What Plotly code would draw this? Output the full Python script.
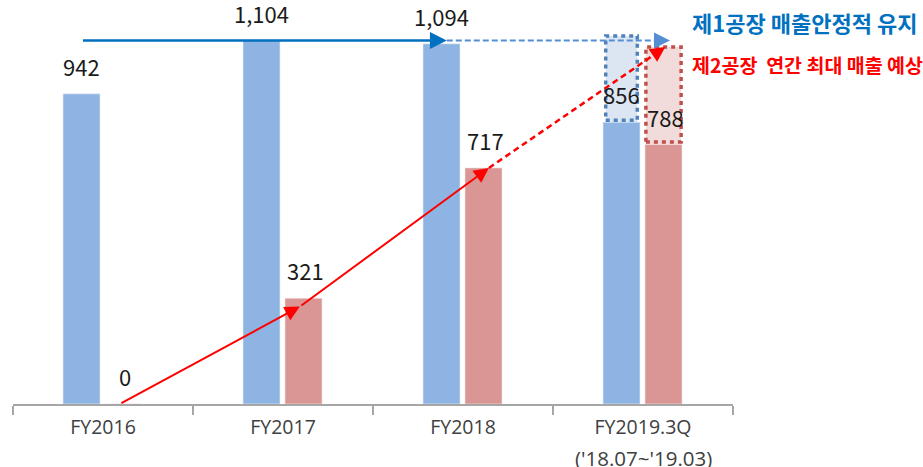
import plotly.graph_objects as go

# ---- data ----
categories = ["FY2016", "FY2017", "FY2018", "FY2019.3Q"]
category_sub = ["", "", "", "('18.07~'19.03)"]
plant1_sales = [942, 1104, 1094, 856]   # 제1공장
plant2_sales = [0, 321, 717, 788]       # 제2공장
plant1_label = ["942", "1,104", "1,094", "856"]
plant2_label = ["0", "321", "717", "788"]
plant1_expected = 1118   # dotted expectation box top (FY2019)
plant2_expected = 1084
title1 = "제1공장 매출안정적 유지"
title2 = "제2공장  연간 최대 매출 예상"

BLUE = "#8EB4E3"
RED = "#D99694"
FONT = "Noto Sans CJK KR"
TICKFONT = "Open Sans"

idx = list(range(len(categories)))
bw = 0.2056
off_b = -0.2222
off_r = 0.0111
cb = [i + off_b + bw / 2 for i in idx]   # blue bar centers
cr = [i + off_r + bw / 2 for i in idx]   # red bar centers

fig = go.Figure()
fig.add_trace(go.Bar(x=idx, y=plant1_sales, width=bw, offset=off_b,
                     marker=dict(color=BLUE, line=dict(color="#E8EEF7", width=0.6)),
                     hoverinfo="skip", showlegend=False))
fig.add_trace(go.Bar(x=idx, y=plant2_sales, width=bw, offset=off_r,
                     marker=dict(color=RED, line=dict(color="#F5E6E6", width=0.6)),
                     hoverinfo="skip", showlegend=False))

shapes = []
ann = []

# dotted expectation boxes (FY2019)
last = idx[-1]
shapes.append(dict(type="rect", xref="x", yref="y", layer="below",
                   x0=last + off_b + 0.015, x1=last + off_b + bw - 0.015,
                   y0=plant1_sales[-1], y1=plant1_expected,
                   fillcolor="#DCE6F2", line=dict(width=0)))
shapes.append(dict(type="rect", xref="x", yref="y",
                   x0=last + off_b + 0.015, x1=last + off_b + bw - 0.015,
                   y0=plant1_sales[-1] + 6, y1=plant1_expected,
                   fillcolor="rgba(0,0,0,0)", line=dict(color="#4F81BD", width=3.5, dash="4px,4px")))
shapes.append(dict(type="rect", xref="x", yref="y", layer="below",
                   x0=last + off_r + 0.005, x1=last + off_r + bw - 0.005,
                   y0=plant2_sales[-1], y1=plant2_expected,
                   fillcolor="#F2DCDB", line=dict(width=0)))
shapes.append(dict(type="rect", xref="x", yref="y",
                   x0=last + off_r + 0.005, x1=last + off_r + bw - 0.005,
                   y0=plant2_sales[-1] + 8, y1=plant2_expected,
                   fillcolor="rgba(0,0,0,0)", line=dict(color="#C0504D", width=3.5, dash="4px,4px")))

# blue horizontal arrow (solid then dashed)
by = max(plant1_sales)
bx0 = cb[0]
bx1 = 2 - 0.09
bx2 = 3 + 0.15
ann.append(dict(x=bx1, y=by, ax=bx0, ay=by, xref="x", yref="y", axref="x", ayref="y",
                showarrow=True, arrowhead=2, arrowsize=1.35, arrowwidth=2.5,
                arrowcolor="#0070C0", text=""))
shapes.append(dict(type="line", xref="x", yref="y", x0=bx1, x1=bx2 - 0.05, y0=by, y1=by,
                   line=dict(color="#558ED5", width=2, dash="6px,3px")))
ann.append(dict(x=bx2, y=by, ax=bx2 - 0.08, ay=by, xref="x", yref="y", axref="x", ayref="y",
                showarrow=True, arrowhead=2, arrowsize=1.6, arrowwidth=2,
                arrowcolor="#558ED5", text=""))

# red trend arrows
rx = [cr[0] - 0.02, cr[1] - 0.02, cr[2] + 0.03, cr[3] + 0.01]
ry = [0, plant2_sales[1] - 25, plant2_sales[2], plant2_expected]
for k in range(2):
    ann.append(dict(x=rx[k + 1], y=ry[k + 1], ax=rx[k], ay=ry[k], xref="x", yref="y",
                    axref="x", ayref="y", showarrow=True, arrowhead=2, arrowsize=1.5,
                    arrowwidth=2, arrowcolor="#FF0000", text=""))
t = 0.93
tx = rx[2] + (rx[3] - rx[2]) * t
ty = ry[2] + (ry[3] - ry[2]) * t
shapes.append(dict(type="line", xref="x", yref="y", x0=rx[2], y0=ry[2], x1=tx, y1=ty,
                   line=dict(color="#FF0000", width=2.5, dash="6px,4px")))
ann.append(dict(x=rx[3], y=ry[3], ax=tx, ay=ty, xref="x", yref="y", axref="x", ayref="y",
                showarrow=True, arrowhead=2, arrowsize=1.5, arrowwidth=2,
                arrowcolor="#FF0000", text=""))

# value labels
for i in idx:
    ann.append(dict(x=cb[i], y=plant1_sales[i], xref="x", yref="y", text=plant1_label[i],
                    showarrow=False, yanchor="middle", yshift=28,
                    font=dict(family=FONT, size=22, color="#1A1A1A")))
    ann.append(dict(x=cr[i] + 0.01, y=plant2_sales[i], xref="x", yref="y", text=plant2_label[i],
                    showarrow=False, yanchor="middle", yshift=28,
                    font=dict(family=FONT, size=22, color="#1A1A1A")))

# second line of category labels
for i in idx:
    if category_sub[i]:
        ann.append(dict(x=i, y=0, xref="x", yref="paper", yanchor="middle", yshift=-54,
                        text=category_sub[i], showarrow=False,
                        font=dict(family=TICKFONT, size=20.5, color="#404040")))

# titles
ann.append(dict(x=0.940, y=1.0, xref="paper", yref="paper", xanchor="left", yanchor="middle",
                yshift=-22, text="<b>" + title1 + "</b>", showarrow=False,
                font=dict(family=FONT, size=22, color="#0070C0")))
ann.append(dict(x=0.940, y=1.0, xref="paper", yref="paper", xanchor="left", yanchor="middle",
                yshift=-64, text="<b>" + title2 + "</b>", showarrow=False,
                font=dict(family=FONT, size=19.5, color="#FF0000")))

fig.update_layout(
    width=923, height=467,
    margin=dict(l=13, r=190, t=0, b=63, autoexpand=False),
    paper_bgcolor="white", plot_bgcolor="white",
    barmode="overlay",
    shapes=shapes, annotations=ann,
    xaxis=dict(range=[-0.5, 3.5], tickvals=idx, ticktext=categories,
               showgrid=False, zeroline=False, showline=True,
               linecolor="#A6A6A6", linewidth=2, ticks="",
               ticklabelstandoff=5, automargin=False,
               minor=dict(tick0=-0.5, dtick=1, ticks="outside", ticklen=9,
                          tickcolor="#A6A6A6", tickwidth=2, showgrid=False),
               tickfont=dict(family=TICKFONT, size=19.5, color="#404040")),
    yaxis=dict(range=[0, 1227], visible=False, showgrid=False, zeroline=False),
)

fig.write_html("out.html", config={"displayModeBar": False},
               post_script="document.body.style.margin='0px';")
